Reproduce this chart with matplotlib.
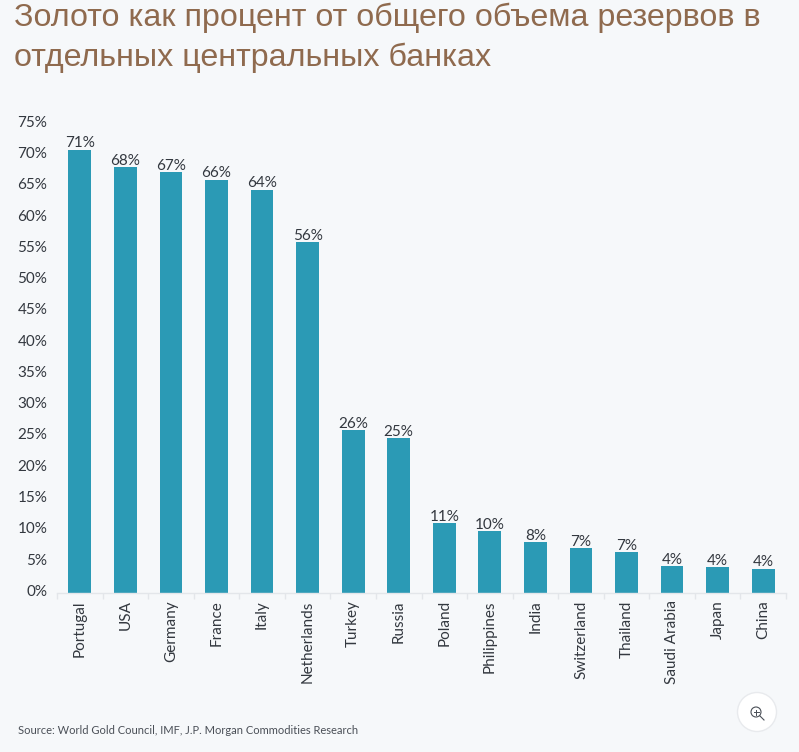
import matplotlib
matplotlib.use('Agg')
import matplotlib.pyplot as plt
from matplotlib.patches import Circle
from matplotlib.lines import Line2D
from matplotlib.transforms import ScaledTranslation

countries = ['Portugal', 'USA', 'Germany', 'France', 'Italy', 'Netherlands', 'Turkey', 'Russia',
             'Poland', 'Philippines', 'India', 'Switzerland', 'Thailand', 'Saudi Arabia', 'Japan', 'China']
values = [70.8, 68.0, 67.2, 66.0, 64.4, 56.0, 26.0, 24.7, 11.1, 9.8, 8.0, 7.1, 6.4, 4.2, 4.0, 3.8]
value_labels = ['71%', '68%', '67%', '66%', '64%', '56%', '26%', '25%',
                '11%', '10%', '8%', '7%', '7%', '4%', '4%', '4%']
yticks = list(range(0, 80, 5))

title = 'Золото как процент от общего объема резервов в\nотдельных центральных банках'
source = 'Source: World Gold Council, IMF, J.P. Morgan Commodities Research'

W, H = 799, 752
bg = '#f6f8fa'
text_col = '#33383f'

plt.rcParams['font.family'] = ['Lato', 'DejaVu Sans']

fig = plt.figure(figsize=(W / 100, H / 100), dpi=100, facecolor=bg)
ax = fig.add_axes([57 / W, 1 - 592.5 / H, 729 / W, 469 / H], facecolor=bg)

x = list(range(len(countries)))
ax.bar(x, values, width=0.5, color='#2b9ab5')
ax.set_xlim(-0.5, len(countries) - 0.5)
ax.set_ylim(0, 75)

for xi, v, lab in zip(x, values, value_labels):
    ax.annotate(lab, (xi, v), xytext=(0, -0.5), textcoords='offset points', ha='center', va='bottom',
                fontsize=11, color=text_col)

for s in ['top', 'right', 'left']:
    ax.spines[s].set_visible(False)
ax.spines['bottom'].set_color('#e3e6ea')
ax.spines['bottom'].set_linewidth(1)

ax.set_yticks(yticks)
ax.set_yticklabels([f'{t}%' for t in yticks], fontsize=11, color=text_col)
ax.tick_params(axis='y', length=0, pad=7)
for lab in ax.get_yticklabels():
    lab.set_verticalalignment('center')
    lab.set_transform(lab.get_transform() + ScaledTranslation(0, 0.5 / 72, fig.dpi_scale_trans))

ax.set_xticks([i - 0.5 for i in range(len(countries) + 1)], minor=True)
ax.tick_params(axis='x', which='minor', length=4, color='#e3e6ea', width=1)
ax.set_xticks(x)
ax.set_xticklabels(countries, rotation=90, fontsize=11, color=text_col)
ax.tick_params(axis='x', which='major', length=0, pad=5.5)

fig.text(14 / W, 1 - 3 / H, title, ha='left', va='top', fontsize=23.25, color='#8f6a4e',
         family='Liberation Sans', linespacing=1.4)
fig.text(18 / W, 1 - 730 / H, source, ha='left', va='center', fontsize=8.05, color='#4a4f57')

# zoom button, bottom right
overlay = fig.add_axes([0, 0, 1, 1], facecolor='none')
overlay.set_xlim(0, W)
overlay.set_ylim(H, 0)
overlay.axis('off')
overlay.add_patch(Circle((757, 712), 19.5, facecolor='white', edgecolor='#e8eaed', linewidth=1))
overlay.add_patch(Circle((756, 712), 5, facecolor='none', edgecolor='#4a4f57', linewidth=0.8))
overlay.add_line(Line2D([760, 764], [716, 720], color='#4a4f57', linewidth=0.8))
overlay.add_line(Line2D([753.5, 758.5], [712, 712], color='#4a4f57', linewidth=0.7))
overlay.add_line(Line2D([756, 756], [709.5, 714.5], color='#4a4f57', linewidth=0.7))

fig.savefig('out.png', dpi=100, facecolor=bg)
